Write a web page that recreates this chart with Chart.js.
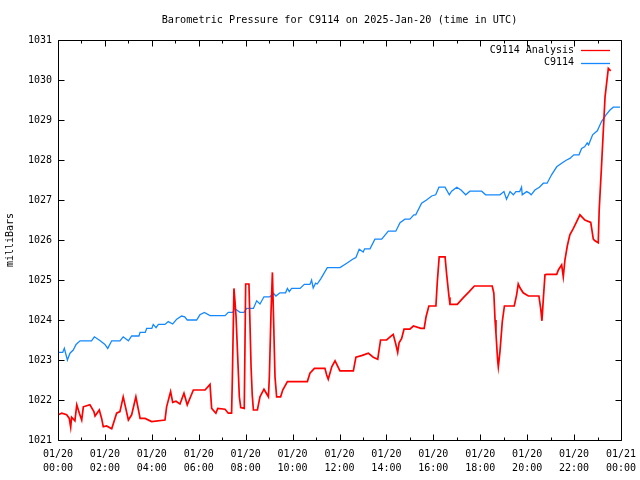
<!DOCTYPE html>
<html>
<head>
<meta charset="utf-8">
<script src="https://cdn.jsdelivr.net/npm/chart.js@4.4.1/dist/chart.umd.min.js"></script>
<style>
  html, body { margin: 0; padding: 0; background: #fff; }
  #wrap { width: 640px; height: 480px; }
</style>
</head>
<body>
<div id="wrap"><canvas id="c" width="640" height="480"></canvas></div>
<script>
// ---- Data (hours since 2025-01-20 00:00 UTC, pressure in mbar) ----
const chartTitle = 'Barometric Pressure for C9114 on 2025-Jan-20 (time in UTC)';
const yAxisTitle = 'milliBars';
const seriesNames = ['C9114 Analysis', 'C9114'];

const analysisHours = [
  0.00, 0.16, 0.37, 0.48, 0.54, 0.58, 0.72, 0.80, 0.91, 1.01, 1.08, 1.36, 1.53, 1.58, 1.76, 1.86,
  1.93, 2.07, 2.29, 2.50, 2.64, 2.78, 3.00, 3.14, 3.32, 3.50, 3.71, 3.99, 4.56, 4.63, 4.80, 4.89,
  5.03, 5.20, 5.37, 5.51, 5.77, 6.27, 6.48, 6.55, 6.73, 6.81, 7.12, 7.26, 7.40, 7.43, 7.50, 7.54,
  7.59, 7.66, 7.73, 7.79, 7.94, 8.00, 8.14, 8.18, 8.23, 8.28, 8.33, 8.50, 8.61, 8.78, 8.97, 9.01,
  9.08, 9.14, 9.18, 9.25, 9.32, 9.49, 9.58, 9.78, 10.63, 10.74, 10.93, 11.38, 11.45, 11.52, 11.67, 11.81,
  12.02, 12.59, 12.70, 12.94, 13.23, 13.44, 13.63, 13.75, 14.01, 14.22, 14.29, 14.39, 14.48, 14.54, 14.65, 14.75,
  15.00, 15.15, 15.47, 15.61, 15.69, 15.81, 16.11, 16.17, 16.25, 16.50, 16.57, 16.67, 16.71, 17.02, 17.28, 17.53,
  17.75, 18.51, 18.58, 18.63, 18.67, 18.74, 18.77, 18.84, 18.94, 19.03, 19.45, 19.55, 19.62, 19.70, 19.83, 20.05,
  20.50, 20.58, 20.63, 20.69, 20.76, 20.83, 21.26, 21.33, 21.47, 21.54, 21.61, 21.71, 21.82, 21.97, 22.11, 22.25,
  22.46, 22.71, 22.82, 22.89, 23.03, 23.07, 23.17, 23.32, 23.46, 23.56
];
const analysisValues = [
  1021.63, 1021.67, 1021.63, 1021.54, 1021.32, 1021.57, 1021.48, 1021.88, 1021.67, 1021.50, 1021.83, 1021.88, 1021.71, 1021.60, 1021.75, 1021.54,
  1021.33, 1021.35, 1021.28, 1021.67, 1021.71, 1022.08, 1021.50, 1021.63, 1022.08, 1021.54, 1021.54, 1021.46, 1021.50, 1021.83, 1022.21, 1021.94,
  1021.97, 1021.90, 1022.17, 1021.88, 1022.25, 1022.25, 1022.39, 1021.79, 1021.67, 1021.79, 1021.77, 1021.67, 1021.67, 1022.46, 1024.79, 1024.50,
  1024.08, 1023.08, 1022.08, 1021.81, 1021.79, 1024.90, 1024.90, 1024.00, 1022.83, 1022.13, 1021.75, 1021.75, 1022.08, 1022.27, 1022.08, 1022.58,
  1024.17, 1025.19, 1024.25, 1022.58, 1022.08, 1022.08, 1022.25, 1022.46, 1022.46, 1022.67, 1022.79, 1022.79, 1022.63, 1022.52, 1022.83, 1022.98,
  1022.73, 1022.73, 1023.07, 1023.11, 1023.17, 1023.07, 1023.02, 1023.50, 1023.50, 1023.61, 1023.64, 1023.42, 1023.19, 1023.43, 1023.54, 1023.77,
  1023.77, 1023.85, 1023.79, 1023.79, 1024.08, 1024.35, 1024.35, 1024.96, 1025.58, 1025.58, 1025.13, 1024.57, 1024.39, 1024.39, 1024.56, 1024.71,
  1024.85, 1024.85, 1024.67, 1024.00, 1023.67, 1023.00, 1022.83, 1023.21, 1023.96, 1024.35, 1024.35, 1024.63, 1024.90, 1024.80, 1024.68, 1024.60,
  1024.60, 1024.27, 1023.98, 1024.54, 1025.13, 1025.14, 1025.14, 1025.25, 1025.38, 1025.08, 1025.50, 1025.85, 1026.13, 1026.29, 1026.46, 1026.63,
  1026.50, 1026.44, 1026.02, 1025.98, 1025.93, 1026.75, 1027.85, 1029.58, 1030.29, 1030.23
];

const stationHours = [
  0.00, 0.20, 0.27, 0.40, 0.51, 0.65, 0.77, 0.94, 1.43, 1.55, 1.80, 2.00, 2.12, 2.29, 2.64, 2.78,
  3.00, 3.14, 3.45, 3.50, 3.72, 3.78, 4.00, 4.06, 4.18, 4.28, 4.56, 4.70, 4.89, 5.06, 5.27, 5.40,
  5.51, 5.91, 6.05, 6.24, 6.48, 7.12, 7.26, 7.45, 7.52, 7.76, 7.93, 8.04, 8.33, 8.47, 8.61, 8.78,
  9.04, 9.18, 9.29, 9.46, 9.70, 9.78, 9.86, 9.96, 10.32, 10.50, 10.74, 10.81, 10.88, 10.98, 11.05, 11.20,
  11.48, 12.02, 12.31, 12.59, 12.70, 12.84, 13.01, 13.07, 13.30, 13.51, 13.80, 14.08, 14.40, 14.58, 14.79, 15.00,
  15.17, 15.25, 15.50, 15.71, 15.93, 16.10, 16.24, 16.50, 16.68, 16.78, 17.00, 17.18, 17.38, 17.56, 18.06, 18.23,
  18.84, 19.01, 19.12, 19.27, 19.41, 19.52, 19.68, 19.76, 19.79, 19.98, 20.08, 20.17, 20.33, 20.52, 20.69, 20.85,
  21.04, 21.26, 21.50, 21.68, 21.82, 21.99, 22.21, 22.32, 22.45, 22.56, 22.62, 22.79, 22.99, 23.17, 23.36, 23.53,
  23.67, 23.96
];
const stationValues = [
  1023.19, 1023.19, 1023.29, 1023.00, 1023.17, 1023.25, 1023.39, 1023.48, 1023.48, 1023.58, 1023.48, 1023.39, 1023.29, 1023.48, 1023.48, 1023.58,
  1023.48, 1023.60, 1023.60, 1023.69, 1023.69, 1023.79, 1023.79, 1023.89, 1023.81, 1023.89, 1023.89, 1023.96, 1023.90, 1024.02, 1024.10, 1024.08,
  1024.00, 1024.00, 1024.13, 1024.19, 1024.11, 1024.11, 1024.19, 1024.19, 1024.29, 1024.19, 1024.19, 1024.29, 1024.29, 1024.48, 1024.40, 1024.58,
  1024.58, 1024.67, 1024.60, 1024.68, 1024.68, 1024.79, 1024.71, 1024.79, 1024.79, 1024.89, 1024.89, 1025.00, 1024.80, 1024.92, 1024.90, 1025.03,
  1025.31, 1025.31, 1025.42, 1025.53, 1025.56, 1025.77, 1025.70, 1025.78, 1025.78, 1026.02, 1026.02, 1026.22, 1026.22, 1026.43, 1026.52, 1026.52,
  1026.63, 1026.63, 1026.92, 1027.00, 1027.10, 1027.13, 1027.32, 1027.32, 1027.13, 1027.22, 1027.32, 1027.25, 1027.13, 1027.22, 1027.22, 1027.13,
  1027.13, 1027.21, 1027.02, 1027.21, 1027.13, 1027.21, 1027.21, 1027.32, 1027.13, 1027.21, 1027.18, 1027.13, 1027.25, 1027.32, 1027.42, 1027.42,
  1027.63, 1027.83, 1027.93, 1028.00, 1028.04, 1028.13, 1028.13, 1028.29, 1028.33, 1028.43, 1028.38, 1028.63, 1028.73, 1028.96, 1029.13, 1029.25,
  1029.32, 1029.32
];

// x tick labels, one per 2-hour major tick (0..24 h)
const xTickLabels = [
  ['01/20', '00:00'], ['01/20', '02:00'], ['01/20', '04:00'], ['01/20', '06:00'],
  ['01/20', '08:00'], ['01/20', '10:00'], ['01/20', '12:00'], ['01/20', '14:00'],
  ['01/20', '16:00'], ['01/20', '18:00'], ['01/20', '20:00'], ['01/20', '22:00'],
  ['01/21', '00:00']
];
const xMin = 0, xMax = 24, xMajorStep = 2, xMinorStep = 1;
const yMin = 1021, yMax = 1031, yStep = 1;

// ---- Rendering ----
const FONT = "'DejaVu Sans Mono', 'Liberation Mono', monospace";
const toPoints = (xs, ys) => xs.map((x, i) => ({ x: x, y: ys[i] }));

const frameTicks = {
  id: 'frameTicks',
  afterDraw(chart) {
    const ctx = chart.ctx, a = chart.chartArea;
    const xs = chart.scales.x, ys = chart.scales.y;
    ctx.save();
    ctx.strokeStyle = '#000';
    ctx.lineWidth = 1;
    const L = Math.round(a.left) + 0.5, R = Math.round(a.right) + 0.5;
    const T = Math.round(a.top) + 0.5, B = Math.round(a.bottom) + 0.5;
    ctx.beginPath();
    ctx.rect(L, T, R - L, B - T);
    ctx.stroke();
    ctx.beginPath();
    for (let v = xMin; v <= xMax; v += xMinorStep) {
      const px = Math.round(xs.getPixelForValue(v)) + 0.5;
      const len = (v % xMajorStep === 0) ? 6 : 3;
      ctx.moveTo(px, B); ctx.lineTo(px, B - len);
      ctx.moveTo(px, T); ctx.lineTo(px, T + len);
    }
    for (let v = yMin; v <= yMax; v += yStep) {
      const py = Math.round(ys.getPixelForValue(v)) + 0.5;
      ctx.moveTo(L, py); ctx.lineTo(L + 6, py);
      ctx.moveTo(R, py); ctx.lineTo(R - 6, py);
    }
    ctx.stroke();

    // gnuplot-style key: right-aligned text, line sample to the right
    ctx.font = '10px ' + FONT;
    ctx.textAlign = 'right';
    ctx.textBaseline = 'middle';
    ctx.fillStyle = '#000';
    chart.data.datasets.forEach((ds, i) => {
      const y = a.top + 10 + i * 12.7;
      ctx.fillText(ds.label, a.right - 47, y);
      ctx.beginPath();
      ctx.strokeStyle = ds.borderColor;
      ctx.lineWidth = 1.3;
      ctx.moveTo(a.right - 40, Math.round(y) + 0.5);
      ctx.lineTo(a.right - 11, Math.round(y) + 0.5);
      ctx.stroke();
    });
    ctx.restore();
  }
};

new Chart(document.getElementById('c'), {
  type: 'line',
  data: {
    datasets: [
      {
        label: seriesNames[0],
        data: toPoints(analysisHours, analysisValues),
        borderColor: '#ff0000',
        borderWidth: 1.7,
        pointRadius: 0,
        tension: 0,
        fill: false
      },
      {
        label: seriesNames[1],
        data: toPoints(stationHours, stationValues),
        borderColor: '#1488ff',
        borderWidth: 1.3,
        pointRadius: 0,
        tension: 0,
        fill: false
      }
    ]
  },
  options: {
    responsive: false,
    animation: false,
    devicePixelRatio: 1,
    layout: { padding: { left: 0, right: 19, top: 0, bottom: 0 } },
    plugins: {
      legend: { display: false },
      tooltip: { enabled: false },
      title: {
        display: true,
        text: chartTitle,
        fullSize: false,
        color: '#000',
        font: { family: FONT, size: 10.2, weight: 'normal', lineHeight: 1.2 },
        padding: { top: 14, bottom: 13.76 }
      }
    },
    scales: {
      x: {
        type: 'linear',
        position: 'bottom',
        min: xMin,
        max: xMax,
        grid: { display: false, drawTicks: false },
        border: { display: false },
        ticks: {
          stepSize: xMajorStep,
          autoSkip: false,
          maxRotation: 0,
          color: '#000',
          padding: 7,
          font: { family: FONT, size: 10, lineHeight: 1.4 },
          callback: (v) => xTickLabels[Math.round(v / xMajorStep)]
        },
        afterFit: (s) => { s.height = 40; s.paddingLeft = 0; s.paddingRight = 0; }
      },
      y: {
        type: 'linear',
        position: 'left',
        min: yMin,
        max: yMax,
        grid: { display: false, drawTicks: false },
        border: { display: false },
        ticks: {
          stepSize: yStep,
          color: '#000',
          padding: 6,
          font: { family: FONT, size: 10 },
          callback: (v) => String(v)
        },
        title: {
          display: true,
          text: yAxisTitle,
          color: '#000',
          font: { family: FONT, size: 10, lineHeight: 1.2 },
          padding: { top: 4, bottom: 0 }
        },
        afterFit: (s) => { s.width = 58; }
      }
    }
  },
  plugins: [frameTicks]
});
</script>
</body>
</html>
